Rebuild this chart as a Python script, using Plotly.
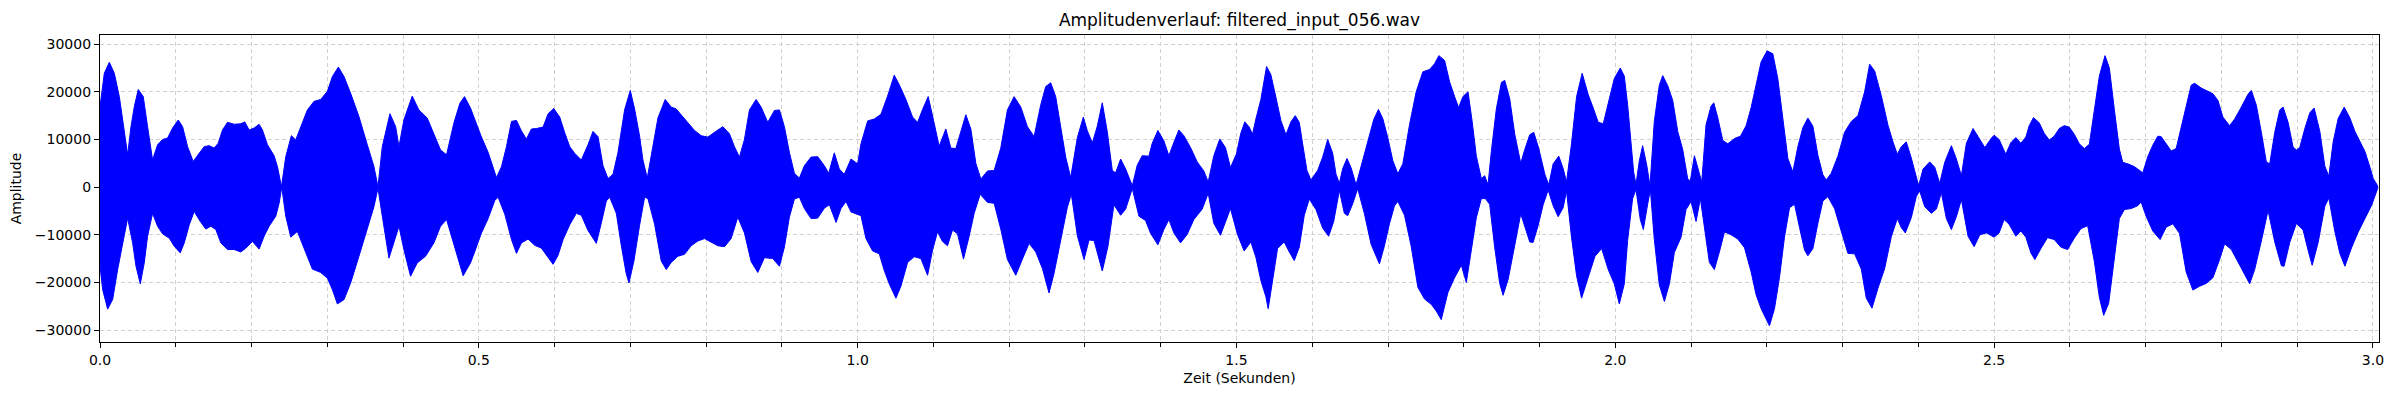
import plotly.graph_objects as go

# Huellkurve der Wellenform (oben / unten)
upper_t = [
    0.0, 0.0057, 0.0123, 0.0189, 0.0255, 0.0321, 0.0365, 0.0409, 0.0453, 0.0505,
    0.0571, 0.0628, 0.0694, 0.0760, 0.0826, 0.0892, 0.0958, 0.1033, 0.1090, 0.1156,
    0.1230, 0.1309, 0.1375, 0.1441, 0.1507, 0.1560, 0.1617, 0.1683, 0.1771, 0.1859,
    0.1911, 0.1968, 0.2034, 0.2100, 0.2144, 0.2210, 0.2298, 0.2342, 0.2395, 0.2452,
    0.2526, 0.2583, 0.2649, 0.2737, 0.2825, 0.2913, 0.3001, 0.3067, 0.3146, 0.3221,
    0.3308, 0.3418, 0.3528, 0.3616, 0.3669, 0.3726, 0.3827, 0.3902, 0.3946, 0.4011,
    0.4121, 0.4209, 0.4319, 0.4407, 0.4495, 0.4574, 0.4670, 0.4750, 0.4811, 0.4890,
    0.4947, 0.5035, 0.5123, 0.5233, 0.5299, 0.5365, 0.5431, 0.5497, 0.5562, 0.5628,
    0.5694, 0.5760, 0.5848, 0.5914, 0.5989, 0.6068, 0.6134, 0.6200, 0.6265, 0.6353,
    0.6441, 0.6507, 0.6573, 0.6639, 0.6705, 0.6771, 0.6837, 0.6924, 0.6999, 0.7056,
    0.7122, 0.7166, 0.7223, 0.7276, 0.7364, 0.7460, 0.7539, 0.7605, 0.7671, 0.7759,
    0.7847, 0.7935, 0.8023, 0.8111, 0.8221, 0.8308, 0.8374, 0.8440, 0.8506, 0.8572,
    0.8660, 0.8726, 0.8814, 0.8902, 0.8968, 0.9033, 0.9099, 0.9165, 0.9231, 0.9297,
    0.9385, 0.9473, 0.9561, 0.9618, 0.9692, 0.9758, 0.9824, 0.9912,
    1.0000, 1.0044, 1.0132, 1.0220, 1.0308, 1.0395, 1.0483, 1.0549, 1.0637, 1.0725,
    1.0791, 1.0857, 1.0931, 1.1002, 1.1076, 1.1164, 1.1230, 1.1296, 1.1362, 1.1428,
    1.1494, 1.1560, 1.1626, 1.1714, 1.1802, 1.1889, 1.1977, 1.2065, 1.2153, 1.2241,
    1.2329, 1.2417, 1.2482, 1.2548, 1.2614, 1.2680, 1.2746, 1.2812, 1.2900, 1.2979,
    1.3032, 1.3098, 1.3163, 1.3229, 1.3295, 1.3361, 1.3405, 1.3471, 1.3537, 1.3625,
    1.3690, 1.3756, 1.3844, 1.3888, 1.3963, 1.4042, 1.4108, 1.4174, 1.4240, 1.4306,
    1.4394, 1.4482, 1.4569, 1.4627, 1.4701, 1.4780, 1.4855, 1.4921,
    1.5000, 1.5057, 1.5110, 1.5168, 1.5212, 1.5256, 1.5322, 1.5397, 1.5454, 1.5520,
    1.5586, 1.5653, 1.5719, 1.5776, 1.5829, 1.5873, 1.5930, 1.5983, 1.6071, 1.6138,
    1.6204, 1.6270, 1.6314, 1.6358, 1.6402, 1.6459, 1.6512, 1.6579, 1.6645, 1.6733,
    1.6812, 1.6874, 1.6931, 1.6997, 1.7063, 1.7130, 1.7196, 1.7284, 1.7372, 1.7460,
    1.7549, 1.7615, 1.7672, 1.7747, 1.7813, 1.7879, 1.7932, 1.7989, 1.8056, 1.8109,
    1.8166, 1.8232, 1.8276, 1.8320, 1.8364, 1.8430, 1.8497, 1.8541, 1.8607, 1.8673,
    1.8752, 1.8805, 1.8871, 1.8924, 1.8990, 1.9070, 1.9122, 1.9180, 1.9254, 1.9312,
    1.9356, 1.9422, 1.9489, 1.9563, 1.9643, 1.9709, 1.9775, 1.9841, 1.9907,
    1.9987, 2.0066, 2.0119, 2.0163, 2.0207, 2.0242, 2.0273, 2.0317, 2.0361, 2.0414,
    2.0458, 2.0515, 2.0581, 2.0626, 2.0692, 2.0758, 2.0824, 2.0890, 2.0956, 2.0991,
    2.1044, 2.1088, 2.1141, 2.1198, 2.1264, 2.1300, 2.1352, 2.1419, 2.1485, 2.1573,
    2.1652, 2.1727, 2.1793, 2.1859, 2.1925, 2.2004, 2.2079, 2.2145, 2.2211, 2.2278,
    2.2344, 2.2410, 2.2476, 2.2542, 2.2608, 2.2674, 2.2740, 2.2784, 2.2850, 2.2938,
    2.3026, 2.3115, 2.3203, 2.3291, 2.3357, 2.3423, 2.3511, 2.3599, 2.3665, 2.3722,
    2.3775, 2.3841, 2.3907, 2.3974, 2.4004, 2.4062, 2.4150, 2.4216, 2.4282, 2.4348,
    2.4436, 2.4502, 2.4568, 2.4634, 2.4722, 2.4789, 2.4877, 2.4965,
    2.5000, 2.5066, 2.5154, 2.5220, 2.5287, 2.5353, 2.5419, 2.5463, 2.5520, 2.5595,
    2.5661, 2.5728, 2.5794, 2.5860, 2.5926, 2.5992, 2.6058, 2.6124, 2.6190, 2.6257,
    2.6314, 2.6389, 2.6464, 2.6521, 2.6587, 2.6653, 2.6698, 2.6764, 2.6852, 2.6918,
    2.6962, 2.7028, 2.7094, 2.7160, 2.7205, 2.7271, 2.7337, 2.7403, 2.7469, 2.7535,
    2.7601, 2.7646, 2.7734, 2.7822, 2.7888, 2.7954, 2.8020, 2.8108, 2.8175, 2.8263,
    2.8351, 2.8395, 2.8461, 2.8527, 2.8593, 2.8638, 2.8704, 2.8770, 2.8814, 2.8880,
    2.8946, 2.8990, 2.9034, 2.9101, 2.9167, 2.9224, 2.9299, 2.9365, 2.9418, 2.9475,
    2.9541, 2.9621, 2.9696, 2.9762, 2.9828, 2.9894, 2.9960, 3.0004, 3.0062,
]
upper_amp = [
    16900, 23900, 26200, 23900, 19000, 12000, 6800, 12700, 16900, 20500,
    19000, 12700, 5700, 8900, 10000, 10300, 12400, 14100, 12700, 8500,
    5400, 7100, 8500, 8700, 8200, 9200, 12000, 13600, 13200, 13300,
    13700, 12000, 12400, 13200, 12000, 8900, 6600, 4300, 100, 6400,
    10800, 9900, 12700, 16200, 18000, 18400, 20100, 23200, 25200, 23200,
    19700, 14800, 8900, 4300, 100, 8500, 15400, 12700, 8500, 14100,
    19100, 16200, 14500, 11300, 7800, 6800, 13400, 17600, 19000, 16600,
    14100, 10500, 7300, 2000, 4300, 8500, 13800, 14000, 11800, 10100,
    12200, 12300, 12600, 15400, 16500, 14700, 11400, 8500, 7100, 5700,
    8900, 11700, 10600, 4500, 1800, 2700, 7300, 16200, 20300, 16400,
    10700, 5700, 1900, 6400, 14500, 18400, 16800, 16400, 15200, 13600,
    11900, 10800, 10500, 11500, 12700, 11200, 8500, 6300, 10000, 16200,
    18400, 16800, 13600, 16100, 16200, 12700, 7300, 2900, 1900, 4500,
    6300, 6400, 4500, 2900, 7200, 3800, 2700, 5900,
    4900, 9100, 13900, 14300, 15300, 19100, 23500, 21500, 18400, 14700,
    13600, 16300, 19000, 14000, 8600, 12200, 8200, 8100, 11700, 15200,
    12200, 5000, 1700, 3400, 3500, 8200, 16200, 19000, 16800, 12700,
    10600, 17300, 21100, 21900, 19000, 12500, 6300, 2000, 10400, 14700,
    11800, 9300, 12800, 17700, 11600, 3500, 3000, 5900, 3800, 300,
    4600, 6600, 6500, 9200, 11900, 9700, 6600, 9400, 12000, 10800,
    8300, 5300, 3400, 1100, 6600, 10100, 8300, 4100,
    7000, 11300, 13700, 12600, 11100, 14300, 18400, 25300, 23600, 18900,
    14000, 11000, 13700, 15000, 13600, 9100, 3500, 1500, 3500, 6300,
    10000, 7100, 2700, 800, 3900, 6000, 4100, 500, 4300, 9300,
    14200, 16300, 14400, 10400, 5600, 2800, 4900, 13100, 20000, 24200,
    24700, 25900, 27600, 26600, 22100, 19000, 16700, 19000, 20000, 14000,
    6500, 1800, 2400, 500, 7500, 16400, 22000, 22400, 18500, 11100,
    5000, 7900, 11000, 11500, 8100, 2700, 500, 4900, 6500, 3900,
    1100, 9100, 19000, 23900, 19400, 16600, 13600, 13300, 17600,
    22800, 25000, 23300, 17300, 9100, 3200, 600, 5500, 8700, 4700,
    300, 13800, 21400, 23400, 21300, 18200, 11700, 7900, 1700, 1300,
    6600, 4200, 1100, 13100, 17000, 17700, 14600, 9800, 9100, 10200,
    10700, 12900, 16700, 21500, 26300, 28600, 28000, 22800, 14700, 6000,
    3200, 8500, 12500, 14500, 12800, 6700, 2600, 1500, 2900, 6500,
    11500, 13800, 15000, 20000, 25800, 24400, 19200, 13000, 9500, 6900,
    8500, 9500, 6100, 1700, 300, 3800, 5300, 4200, 800, 5200,
    8700, 5900, 2400, 9200, 12300, 10600, 8300, 10300,
    10900, 10000, 6900, 9300, 10400, 9200, 10500, 12900, 14600, 13500,
    11300, 9900, 10700, 12300, 12900, 12600, 11100, 9100, 8100, 9000,
    15000, 23300, 27600, 25000, 16300, 8000, 5200, 4900, 4300, 3400,
    3000, 6400, 8800, 10700, 10600, 9100, 7600, 8100, 12700, 16800,
    21400, 21800, 20800, 20100, 19600, 18200, 14700, 12900, 14300, 16800,
    19500, 20300, 17200, 11500, 5300, 4900, 11500, 16200, 16800, 13600,
    8400, 7800, 8300, 12300, 15600, 16600, 11700, 4400, 2300, 9500,
    14400, 16800, 14500, 11700, 9700, 7500, 4200, 1800, 300,
]

lower_t = [
    0.0, 0.0035, 0.0101, 0.0167, 0.0233, 0.0299, 0.0365, 0.0431, 0.0475, 0.0532,
    0.0584, 0.0628, 0.0694, 0.0760, 0.0826, 0.0914, 0.0980, 0.1059, 0.1112, 0.1178,
    0.1243, 0.1323, 0.1397, 0.1463, 0.1529, 0.1595, 0.1683, 0.1771, 0.1859, 0.1924,
    0.2012, 0.2100, 0.2166, 0.2232, 0.2320, 0.2364, 0.2399, 0.2452, 0.2518, 0.2605,
    0.2671, 0.2737, 0.2803, 0.2913, 0.3001, 0.3067, 0.3133, 0.3221, 0.3308, 0.3418,
    0.3528, 0.3616, 0.3669, 0.3726, 0.3814, 0.3880, 0.3946, 0.4011, 0.4099, 0.4187,
    0.4297, 0.4407, 0.4495, 0.4574, 0.4670, 0.4793, 0.4890,
    0.4947, 0.5035, 0.5123, 0.5211, 0.5255, 0.5343, 0.5431, 0.5497, 0.5562, 0.5650,
    0.5738, 0.5826, 0.5914, 0.5980, 0.6046, 0.6112, 0.6200, 0.6287, 0.6353, 0.6441,
    0.6551, 0.6617, 0.6683, 0.6727, 0.6815, 0.6880, 0.6946, 0.6982, 0.7047, 0.7122,
    0.7188, 0.7232, 0.7320, 0.7408, 0.7474, 0.7539, 0.7627, 0.7715, 0.7803, 0.7891,
    0.7979, 0.8067, 0.8155, 0.8243, 0.8330, 0.8418, 0.8506, 0.8594, 0.8682, 0.8770,
    0.8880, 0.8968, 0.9033, 0.9099, 0.9165, 0.9231, 0.9297, 0.9385, 0.9473, 0.9561,
    0.9627, 0.9715, 0.9780, 0.9846, 0.9912,
    1.0044, 1.0110, 1.0198, 1.0286, 1.0351, 1.0417, 1.0505, 1.0571, 1.0659, 1.0747,
    1.0835, 1.0923, 1.0989, 1.1054, 1.1120, 1.1186, 1.1252, 1.1318, 1.1397, 1.1472,
    1.1538, 1.1617, 1.1714, 1.1802, 1.1889, 1.1977, 1.2087, 1.2175, 1.2263, 1.2351,
    1.2439, 1.2526, 1.2592, 1.2680, 1.2768, 1.2821, 1.2900, 1.2988, 1.3054, 1.3120,
    1.3229, 1.3304, 1.3383, 1.3471, 1.3537, 1.3625, 1.3713, 1.3800, 1.3866, 1.3963,
    1.4042, 1.4108, 1.4174, 1.4262, 1.4350, 1.4438, 1.4548, 1.4627, 1.4701, 1.4789,
    1.4855, 1.4921,
    1.5013, 1.5101, 1.5190, 1.5256, 1.5322, 1.5388, 1.5419, 1.5476, 1.5542, 1.5630,
    1.5697, 1.5763, 1.5829, 1.5895, 1.5961, 1.6049, 1.6138, 1.6217, 1.6283, 1.6358,
    1.6424, 1.6468, 1.6534, 1.6600, 1.6689, 1.6777, 1.6843, 1.6887, 1.6953, 1.7019,
    1.7086, 1.7130, 1.7218, 1.7306, 1.7394, 1.7483, 1.7571, 1.7637, 1.7703, 1.7791,
    1.7879, 1.7968, 1.8034, 1.8100, 1.8166, 1.8232, 1.8285, 1.8342, 1.8408, 1.8474,
    1.8519, 1.8585, 1.8673, 1.8752, 1.8805, 1.8871, 1.8915, 1.8981, 1.9048, 1.9114,
    1.9180, 1.9246, 1.9312, 1.9356, 1.9422, 1.9489, 1.9555, 1.9643, 1.9732, 1.9820,
    1.9907,
    1.9987, 2.0053, 2.0119, 2.0163, 2.0229, 2.0273, 2.0330, 2.0370, 2.0427, 2.0463,
    2.0515, 2.0581, 2.0648, 2.0714, 2.0780, 2.0868, 2.0934, 2.1000, 2.1066, 2.1123,
    2.1176, 2.1242, 2.1308, 2.1374, 2.1441, 2.1529, 2.1617, 2.1705, 2.1793, 2.1859,
    2.1925, 2.2035, 2.2101, 2.2167, 2.2233, 2.2300, 2.2366, 2.2432, 2.2498, 2.2542,
    2.2608, 2.2674, 2.2740, 2.2806, 2.2894, 2.2982, 2.3070, 2.3159, 2.3247, 2.3313,
    2.3388, 2.3467, 2.3555, 2.3643, 2.3722, 2.3775, 2.3828, 2.3907, 2.3974, 2.4018,
    2.4084, 2.4172, 2.4238, 2.4304, 2.4370, 2.4436, 2.4502, 2.4568, 2.4656, 2.4736,
    2.4811, 2.4899,
    2.5000, 2.5066, 2.5132, 2.5198, 2.5287, 2.5353, 2.5419, 2.5485, 2.5538, 2.5617,
    2.5705, 2.5794, 2.5882, 2.5970, 2.6058, 2.6146, 2.6235, 2.6323, 2.6389, 2.6446,
    2.6512, 2.6587, 2.6653, 2.6720, 2.6808, 2.6896, 2.6940, 2.7006, 2.7094, 2.7191,
    2.7271, 2.7359, 2.7447, 2.7535, 2.7623, 2.7712, 2.7800, 2.7888, 2.7976, 2.8042,
    2.8131, 2.8219, 2.8307, 2.8373, 2.8439, 2.8527, 2.8616, 2.8704, 2.8792, 2.8827,
    2.8902, 2.8990, 2.9078, 2.9145, 2.9198, 2.9277, 2.9365, 2.9418, 2.9497, 2.9563,
    2.9630, 2.9718, 2.9806, 2.9894, 2.9982, 3.0062,
]
lower_amp = [
    -16600, -21500, -25600, -23600, -17300, -11700, -6500, -11700, -16600, -20300,
    -15900, -10300, -5500, -8200, -9800, -10700, -12400, -13800, -11700, -7900,
    -5100, -7200, -8800, -8200, -8900, -11700, -13100, -13100, -13600, -12800,
    -11400, -13000, -10300, -8200, -6100, -3400, 0, -6100, -10500, -9300,
    -11700, -14500, -17200, -17900, -19100, -21500, -24500, -23600, -20100, -14500,
    -8900, -4100, -200, -6100, -14900, -11700, -8200, -13100, -18700, -15900,
    -14500, -11700, -8200, -6800, -11700, -18600, -15900,
    -13500, -9600, -6600, -2800, -2100, -5700, -11000, -13900, -11700, -10900,
    -12200, -12800, -14700, -16200, -14300, -11000, -7900, -5500, -5900, -9100,
    -11800, -7500, -2900, -2100, -5500, -12200, -18200, -20100, -15500, -8000,
    -2100, -2400, -7800, -15500, -17300, -15800, -14500, -14100, -12300, -11300,
    -10800, -11500, -12300, -12500, -10800, -6300, -9600, -15600, -17900, -14800,
    -15000, -16600, -12600, -6300, -2500, -2100, -4500, -6600, -6500, -4400,
    -3700, -7400, -4500, -3000, -5200,
    -6000, -10800, -13400, -14000, -17500, -20300, -23300, -20800, -15800, -14600,
    -15000, -18500, -13200, -9400, -11400, -12300, -9000, -9800, -15100, -10300,
    -5500, -1500, -3200, -3400, -8800, -15200, -18500, -15100, -11800, -13600,
    -17100, -22200, -18100, -11000, -4200, -1500, -10200, -15200, -11100, -11200,
    -17600, -12400, -3700, -5900, -4600, -300, -6100, -7000, -9700, -12100,
    -8900, -6800, -9600, -11700, -9900, -6800, -4600, -1300, -7600, -10100,
    -7300, -4500,
    -9900, -13400, -11500, -14700, -19600, -23000, -25500, -19800, -12900, -11500,
    -13600, -15400, -12600, -5900, -2500, -4700, -8600, -10300, -7200, -700,
    -5500, -6000, -3500, -300, -5600, -12000, -14300, -16100, -12300, -7700,
    -3900, -3000, -5900, -12400, -21000, -23500, -24600, -26000, -27800, -22100,
    -19000, -16400, -20000, -13300, -6400, -2400, -2400, -3600, -12600, -20200,
    -22700, -19400, -12200, -5600, -8400, -11500, -11600, -8100, -3700, -600,
    -3900, -6200, -4300, -800, -10500, -18600, -23300, -18900, -14500, -12900,
    -17300,
    -20300, -24500, -20300, -11200, -2400, -500, -6800, -8900, -3600, -500,
    -11000, -20500, -24000, -20300, -13700, -10500, -4700, -3000, -7200, -2400,
    -8900, -15800, -17300, -13600, -9400, -10000, -10900, -12700, -17800, -22600,
    -25500, -29100, -25500, -19000, -10500, -4300, -3600, -8500, -13200, -14400,
    -12900, -7600, -2900, -2000, -4500, -9200, -13900, -14000, -17200, -23300,
    -25400, -21200, -17100, -10400, -6600, -8500, -9600, -6400, -1900, -800,
    -4100, -5500, -4600, -1200, -6600, -8900, -6200, -2600, -10300, -12500,
    -10000, -9600,
    -10500, -9600, -6800, -7800, -10300, -9200, -10500, -13800, -15200, -12900,
    -10600, -11000, -12600, -13100, -10700, -8700, -8100, -15600, -23100, -26900,
    -24400, -14800, -6600, -4700, -4500, -3900, -3100, -6100, -9200, -11000,
    -8400, -7700, -9700, -17800, -21600, -20800, -20200, -19000, -15200, -11900,
    -13100, -15700, -18200, -20300, -17300, -11300, -4900, -11500, -16500, -16600,
    -11600, -7600, -9000, -13300, -16400, -11600, -4000, -2300, -9300, -13900,
    -16600, -12700, -9400, -6500, -3800, -300,
]

duration = 3.008
y_ticks = [-30000, -20000, -10000, 0, 10000, 20000, 30000]
y_tick_text = [str(v).replace("-", "\u2212") for v in y_ticks]

font = "DejaVu Sans"
grid_col = "#d0d0d0"
grid_dash = "4px,3px"

# the html body has an 8px default margin, so the figure is a bit smaller
fig_w, fig_h = 2384, 384

fig = go.Figure()
fig.add_trace(go.Scatter(
    x=upper_t + lower_t[::-1],
    y=upper_amp + lower_amp[::-1],
    mode="lines",
    fill="toself",
    fillcolor="#0000ff",
    line=dict(color="#0000ff", width=1),
    hoverinfo="skip",
    showlegend=False,
))

fig.update_layout(
    width=fig_w,
    height=fig_h,
    paper_bgcolor="white",
    plot_bgcolor="white",
    font=dict(family=font, size=14, color="black"),
    margin=dict(l=92, r=13, t=27, b=50, autoexpand=False),
    title=dict(
        text="Amplitudenverlauf: filtered_input_056.wav",
        x=0.5, xanchor="center", xref="paper",
        y=1 - 12 / fig_h, yanchor="middle",
        font=dict(size=17, family=font, color="black"),
    ),
    xaxis=dict(
        range=[0, duration],
        tickvals=[0.0, 0.5, 1.0, 1.5, 2.0, 2.5, 3.0],
        tickformat=".1f",
        ticks="outside", ticklen=5, tickwidth=1, tickcolor="black",
        showline=True, linecolor="black", linewidth=1.2, mirror=True,
        showgrid=True, gridcolor=grid_col, griddash=grid_dash, gridwidth=1,
        zeroline=False,
        minor=dict(dtick=0.1, tick0=0, ticks="outside", ticklen=3.5,
                   tickcolor="black", showgrid=True, gridcolor=grid_col,
                   griddash=grid_dash, gridwidth=1),
        title=dict(text="Zeit (Sekunden)", standoff=6,
                   font=dict(size=14, family=font)),
        tickfont=dict(size=14, family=font),
    ),
    yaxis=dict(
        range=[-32500, 31930],
        tickvals=y_ticks,
        ticktext=y_tick_text,
        ticks="outside", ticklen=5, tickwidth=1, tickcolor="black",
        showline=True, linecolor="black", linewidth=1.2, mirror=True,
        showgrid=True, gridcolor=grid_col, griddash=grid_dash, gridwidth=1,
        zeroline=False,
        title=dict(text="Amplitude", standoff=12,
                   font=dict(size=14, family=font)),
        tickfont=dict(size=14, family=font),
    ),
)

fig.write_html("out.html")
